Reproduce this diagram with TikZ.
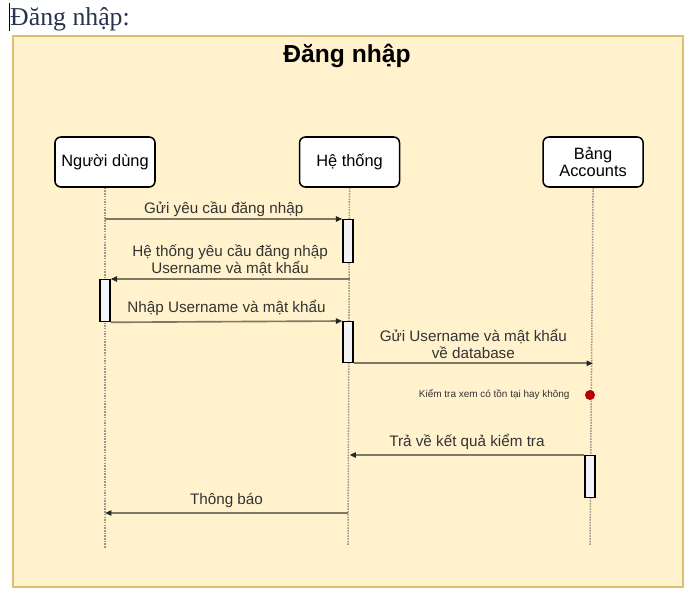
\documentclass[tikz,border=0pt]{standalone}
\usepackage{fontspec}
\setmainfont{Liberation Sans}
\newfontfamily\headfont{Liberation Serif}
\usetikzlibrary{arrows.meta,positioning}
\definecolor{framefill}{HTML}{FFF2CC}
\definecolor{frameline}{HTML}{DCC070}
\definecolor{msgline}{HTML}{7E7965}
\definecolor{lifegray}{HTML}{9A978C}
\definecolor{textgray}{HTML}{333333}
\definecolor{headblue}{HTML}{26344D}
\definecolor{actfill}{HTML}{F3F3FA}
\definecolor{dotred}{HTML}{B40000}

\begin{document}
\begin{tikzpicture}[
    x=0.03cm, y=-0.03cm,
    head/.style={draw, rectangle, rounded corners=5pt, fill=white, line width=1.3pt, minimum width=3cm, minimum height=1.5cm, align=center, font=\fontsize{14}{15}\selectfont},
    act/.style={draw, rectangle, fill=actfill, line width=1.1pt, minimum width=0.3cm, inner sep=0pt, anchor=north},
    life/.style={lifegray, dash pattern=on 1.3pt off 1pt, line width=1.3pt},
    msg/.style={-{Triangle[length=5.5pt, width=4.5pt, color=black!85]}, msgline, line width=1.4pt},
    lbl/.style={text=textgray, font=\fontsize{13}{14.5}\selectfont, align=center, inner sep=1pt},
  ]
    \useasboundingbox (0,0) rectangle (700,605);

    % Heading and frame
    \node[anchor=base west, inner sep=0pt, text=headblue, font=\headfont\fontsize{22}{24}\selectfont] (heading) at (10,25) {Đăng nhập:};
    \draw[line width=0.6pt] (9,3) -- (9,31);
    \draw[frameline, fill=framefill, line width=1.8pt] (13,36) rectangle (683,587);
    \node[font=\bfseries\fontsize{21}{23}\selectfont] (title) at (347,56) {Đăng nhập};

    % Lifeline heads
    \node[head] (user) at (105,162) {Người dùng};
    \node[head, right=4.29cm of user] (sys) {Hệ thống};
    \node[head, right=4.26cm of sys] (acc) {Bảng\\Accounts};

    % Lifelines
    \coordinate (userEnd) at (105,548);
    \coordinate (sysEnd) at (348,545);
    \coordinate (accEnd) at (590,545);
    \draw[life] (user.south) -- (userEnd);
    \draw[life] (sys.south) -- (sysEnd);
    \draw[life] (acc.south) -- (accEnd);

    % Activations
    \node[act, minimum height=1.29cm] (act1) at (348,219) {};
    \node[act, minimum height=1.26cm] (act2) at (105,279) {};
    \node[act, minimum height=1.23cm] (act3) at (348,321) {};
    \node[act, minimum height=1.26cm] (act4) at (590,455) {};
    \node[circle, fill=dotred, minimum size=0.3cm, inner sep=0pt] (chk) at (590,395) {};

    % Messages
    \draw[msg] (user |- act1.north) -- node[lbl, above] {Gửi yêu cầu đăng nhập} (act1.north west);
    \draw[msg] (sys |- act2.north) -- node[lbl, above=1pt] {Hệ thống yêu cầu đăng nhập\\Username và mật khẩu} (act2.north east);
    \draw[msg] (act2.south east) -- node[lbl, above=3pt] {Nhập Username và mật khẩu} (act3.north west);
    \draw[msg] (act3.south east) -- node[lbl, above=2pt] {Gửi Username và mật khẩu\\về database} (acc |- act3.south);
    \draw[msg] (act4.north west) -- node[lbl, above=3pt] {Trả về kết quả kiểm tra} (sys |- act4.north);
    \coordinate (sysNote) at (348,513);
    \coordinate (userNote) at (105,513);
    \draw[msg] (sysNote) -- node[lbl, above=3pt] {Thông báo} (userNote);

    % Check note
    \node[left=0.45cm of chk, text=textgray, font=\fontsize{8.5}{9}\selectfont, inner sep=0pt] (chkText) {Kiểm tra xem có tồn tại hay không};
  \end{tikzpicture}
\end{document}
